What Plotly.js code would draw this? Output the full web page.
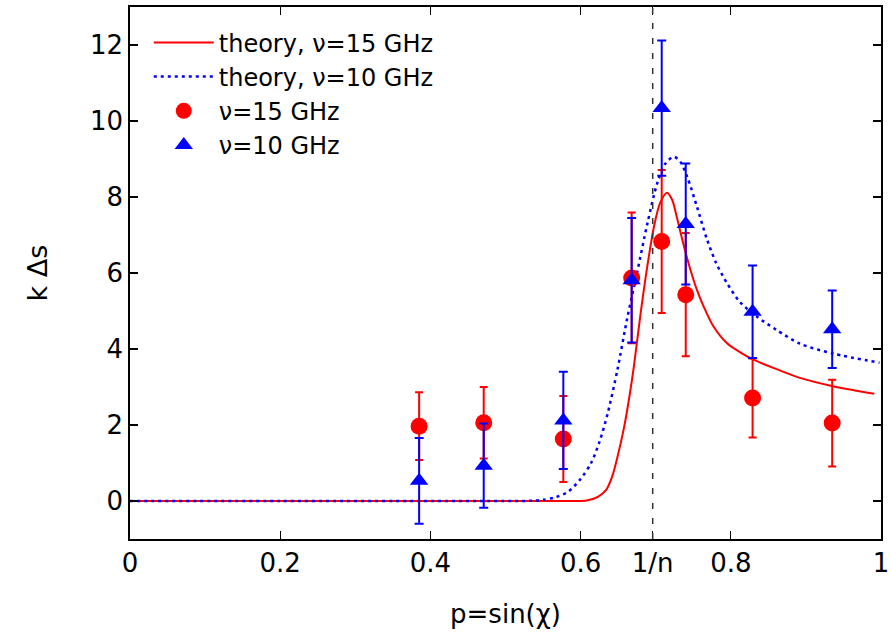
<!DOCTYPE html>
<html>
<head>
<meta charset="utf-8">
<script src="https://cdn.plot.ly/plotly-3.0.1.min.js"></script>
<style>html,body{margin:0;padding:0;background:#fff;}#chart{width:891px;height:635px;}</style>
</head>
<body>
<div id="chart"></div>
<script>
// Theory curves
var theory15X = [0, 0.2, 0.4, 0.55, 0.590, 0.600, 0.610, 0.623, 0.634, 0.642, 0.649, 0.658, 0.665, 0.671, 0.680, 0.689, 0.698, 0.706, 0.715, 0.722, 0.728, 0.737, 0.746, 0.755, 0.764, 0.777, 0.795, 0.817, 0.830, 0.861, 0.892, 0.936, 0.965, 0.991];
var theory15Y = [0, 0, 0, 0, 0.00, 0.00, 0.02, 0.11, 0.29, 0.64, 1.15, 1.95, 2.75, 3.55, 4.95, 6.20, 7.25, 7.85, 8.11, 7.92, 7.48, 6.75, 6.10, 5.55, 5.11, 4.59, 4.15, 3.86, 3.72, 3.47, 3.24, 3.02, 2.91, 2.82];
var theory10X = [0, 0.2, 0.4, 0.52, 0.54, 0.55, 0.565, 0.583, 0.600, 0.614, 0.625, 0.636, 0.649, 0.662, 0.675, 0.689, 0.702, 0.713, 0.724, 0.733, 0.742, 0.755, 0.768, 0.781, 0.795, 0.812, 0.834, 0.861, 0.892, 0.936, 0.998];
var theory10Y = [0, 0, 0, 0, 0.01, 0.03, 0.09, 0.24, 0.58, 1.00, 1.55, 2.30, 3.45, 4.80, 5.99, 7.31, 8.36, 8.88, 9.06, 8.92, 8.53, 7.74, 6.90, 6.24, 5.73, 5.24, 4.86, 4.50, 4.14, 3.88, 3.64];

// Measurements
var pData = [0.385, 0.471, 0.577, 0.668, 0.708, 0.740, 0.829, 0.935];
var meas15Y = [1.97, 2.06, 1.63, 5.87, 6.83, 5.43, 2.71, 2.05];
var meas15Err = [0.89, 0.94, 1.13, 1.72, 1.88, 1.62, 1.04, 1.14];
var meas10Y = [0.53, 0.93, 2.12, 5.81, 10.34, 7.29, 4.98, 4.52];
var meas10Err = [1.13, 1.11, 1.28, 1.64, 1.78, 1.59, 1.22, 1.02];

// Axis ticks
var invN = 0.696;
var xTickVals = [0, 0.2, 0.4, 0.6, invN, 0.8, 1];
var xTickText = ['0', '0.2', '0.4', '0.6', '1/n', '0.8', '1'];
var yTickVals = [0, 2, 4, 6, 8, 10, 12];

var FONT = 'DejaVu Sans, Liberation Sans, Arial, sans-serif';

var traces = [
  {x: theory15X, y: theory15Y, mode: 'lines', name: 'theory, \u03bd=15 GHz',
   line: {color: '#ff0000', width: 2, shape: 'spline', smoothing: 0.8}},
  {x: theory10X, y: theory10Y, mode: 'lines', name: 'theory, \u03bd=10 GHz',
   line: {color: '#0000ff', width: 2.5, dash: '3px,4px', shape: 'spline', smoothing: 0.8}},
  {x: pData, y: meas15Y, mode: 'markers', name: '\u03bd=15 GHz',
   marker: {color: '#ff0000', size: 17, symbol: 'circle'},
   error_y: {type: 'data', array: meas15Err, visible: true, color: '#ff0000', thickness: 2, width: 4}},
  {x: pData, y: meas10Y, mode: 'markers', name: '\u03bd=10 GHz',
   marker: {color: '#0000ff', size: 16, symbol: 'triangle-up'},
   error_y: {type: 'data', array: meas10Err, visible: true, color: '#0000ff', thickness: 2, width: 4.5}}
];

var layout = {
  width: 891, height: 635,
  margin: {l: 130, r: 10, t: 7, b: 96},
  paper_bgcolor: '#ffffff', plot_bgcolor: '#ffffff',
  font: {family: FONT, size: 26, color: '#000000'},
  showlegend: true,
  legend: {x: 0.025, y: 0.975, xanchor: 'left', yanchor: 'top', bgcolor: 'rgba(255,255,255,0)',
           font: {family: FONT, size: 24, color: '#000'}, tracegroupgap: 0, itemwidth: 60},
  xaxis: {
    range: [0, 1], tickvals: xTickVals, ticktext: xTickText,
    ticks: 'inside', ticklen: 8, tickwidth: 1.2, tickcolor: '#000',
    showline: true, linecolor: '#000', linewidth: 1.8, mirror: 'allticks',
    showgrid: false, zeroline: false, ticklabeloverflow: 'allow',
    tickfont: {family: FONT, size: 26},
    title: {text: 'p=sin(\u03c7)', font: {family: FONT, size: 26}, standoff: 28}
  },
  yaxis: {
    range: [-1, 13], tickvals: yTickVals,
    ticks: 'inside', ticklen: 8, tickwidth: 1.2, tickcolor: '#000',
    showline: true, linecolor: '#000', linewidth: 1.8, mirror: 'allticks',
    showgrid: false, zeroline: false,
    tickfont: {family: FONT, size: 26},
    title: {text: 'k \u0394s', font: {family: FONT, size: 27}, standoff: 34}
  },
  shapes: [{type: 'line', xref: 'x', yref: 'paper', x0: invN, x1: invN, y0: 0, y1: 1,
            line: {color: '#333333', width: 1.5, dash: '6px,9px'}}]
};

Plotly.newPlot('chart', traces, layout, {staticPlot: true, displayModeBar: false});
</script>
</body>
</html>
